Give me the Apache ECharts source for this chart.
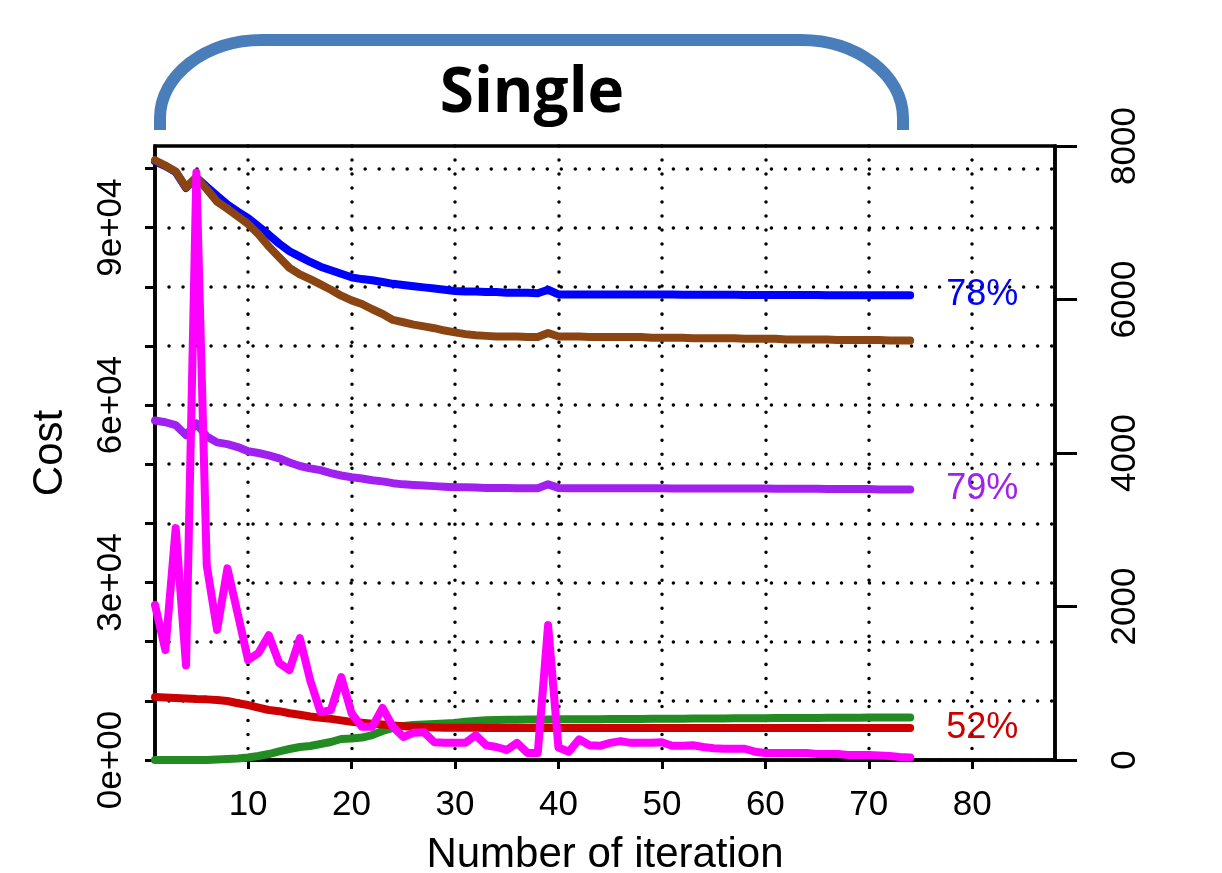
<!DOCTYPE html>
<html>
<head>
<meta charset="utf-8">
<title>Single</title>
<script src="https://cdn.jsdelivr.net/npm/echarts@6.0.0/dist/echarts.min.js"></script>
<style>
    html, body { margin: 0; padding: 0; background: #fff; overflow: hidden; }
    #chart { width: 1222px; height: 873px; }
</style>
</head>
<body>
<div id="chart"></div>
<script>
// iteration number (x)
var iterations = [
    1, 2, 3, 4, 5, 6, 7, 8, 9, 10,
    11, 12, 13, 14, 15, 16, 17, 18, 19, 20,
    21, 22, 23, 24, 25, 26, 27, 28, 29, 30,
    31, 32, 33, 34, 35, 36, 37, 38, 39, 40,
    41, 42, 43, 44, 45, 46, 47, 48, 49, 50,
    51, 52, 53, 54, 55, 56, 57, 58, 59, 60,
    61, 62, 63, 64, 65, 66, 67, 68, 69, 70,
    71, 72, 73, 74
];

var blueCost = [
    101200, 100400, 99400, 96700, 98500, 96900, 95400, 93900, 92700, 91600,
    90200, 88800, 87300, 86000, 85100, 84200, 83400, 82800, 82200, 81600,
    81300, 81100, 80800, 80500, 80300, 80100, 79900, 79700, 79500, 79300,
    79200, 79200, 79100, 79100, 79000, 79000, 79000, 78900, 79500, 78700,
    78700, 78700, 78700, 78700, 78700, 78700, 78700, 78700, 78700, 78700,
    78700, 78650, 78650, 78650, 78650, 78650, 78650, 78600, 78600, 78600,
    78600, 78600, 78600, 78600, 78600, 78550, 78550, 78550, 78550, 78550,
    78550, 78550, 78550, 78550
];

var brownCost = [
    101400, 100500, 99500, 96800, 98500, 96500, 94400, 93200, 91900, 90600,
    88900, 86800, 85000, 83200, 82100, 81300, 80400, 79500, 78500, 77700,
    77100, 76200, 75400, 74400, 74000, 73600, 73300, 73000, 72600, 72300,
    72000, 71800, 71700, 71600, 71600, 71600, 71500, 71500, 72200, 71600,
    71600, 71600, 71500, 71500, 71500, 71500, 71500, 71500, 71400, 71400,
    71400, 71400, 71300, 71300, 71300, 71300, 71300, 71200, 71200, 71200,
    71200, 71100, 71100, 71100, 71100, 71100, 71000, 71000, 71000, 71000,
    71000, 70900, 70900, 70900
];

var purpleCost = [
    57400, 57100, 56600, 54900, 56900, 54700, 53700, 53400, 52900, 52200,
    51900, 51500, 51000, 50300, 49700, 49300, 49000, 48500, 48100, 47800,
    47600, 47300, 47100, 46800, 46600, 46500, 46400, 46300, 46200, 46100,
    46100, 46050, 46000, 46000, 46000, 45950, 45950, 45950, 46600, 46000,
    45950, 45950, 45950, 45950, 45950, 45950, 45950, 45950, 45950, 45950,
    45900, 45900, 45900, 45900, 45900, 45900, 45900, 45900, 45900, 45900,
    45850, 45850, 45850, 45850, 45850, 45800, 45800, 45800, 45800, 45800,
    45750, 45750, 45750, 45750
];

var magentaCost = [
    26200, 18600, 39200, 16000, 99300, 32900, 22000, 32400, 24700, 16900,
    18100, 21100, 16400, 15200, 20600, 13500, 8100, 8400, 14000, 7900,
    5600, 5600, 8800, 5600, 3900, 4600, 4700, 3000, 2900, 2900,
    2900, 4200, 2500, 2200, 1700, 2900, 1200, 1200, 22800, 2100,
    1400, 3500, 2500, 2400, 2900, 3200, 2900, 2900, 2900, 3000,
    2400, 2400, 2500, 2200, 2000, 1900, 1900, 1900, 1400, 1200,
    1200, 1200, 1200, 1200, 1000, 1000, 1000, 840, 840, 840,
    760, 680, 510, 420
];

var redCost = [
    10640, 10560, 10470, 10390, 10300, 10250, 10140, 9970, 9600, 9290,
    8850, 8450, 8250, 7900, 7650, 7350, 7150, 6950, 6700, 6450,
    6300, 6150, 6000, 5850, 5700, 5630, 5560, 5510, 5470, 5450,
    5440, 5440, 5430, 5430, 5430, 5420, 5420, 5420, 5420, 5420,
    5410, 5410, 5410, 5410, 5410, 5410, 5410, 5410, 5410, 5410,
    5400, 5400, 5400, 5400, 5400, 5400, 5400, 5400, 5400, 5400,
    5400, 5400, 5400, 5400, 5400, 5400, 5400, 5400, 5400, 5400,
    5390, 5390, 5390, 5390
];

var greenCost = [
    0, 0, 0, 0, 0, 0, 80, 170, 250, 420,
    680, 1010, 1440, 1860, 2200, 2370, 2700, 3040, 3550, 3630,
    3800, 4220, 4900, 5410, 5740, 5910, 6000, 6080, 6170, 6250,
    6450, 6600, 6700, 6760, 6800, 6820, 6840, 6850, 6860, 6870,
    6880, 6890, 6900, 6910, 6920, 6930, 6940, 6950, 6960, 6970,
    6980, 6990, 7000, 7010, 7020, 7030, 7040, 7050, 7060, 7070,
    7080, 7090, 7100, 7110, 7120, 7130, 7140, 7150, 7160, 7170,
    7180, 7190, 7200, 7200
];

// tick positions / labels
var iterTicks = [10, 20, 30, 40, 50, 60, 70, 80];
var costTicks = [0, 10000, 20000, 30000, 40000, 50000, 60000, 70000, 80000, 90000, 100000];
var costLabels = [0, 30000, 60000, 90000];
var rightTicks = [0, 2000, 4000, 6000, 8000];

var axisFont = "'Liberation Sans', Arial, sans-serif";
var dotted = { color: '#000', width: 3.5, type: [0.01, 14], cap: 'round' };
var blackLine = { color: '#000', width: 3.5 };
var bracketStyle = { fill: null, stroke: '#4A7EBB', lineWidth: 12 };

function sciLabel(v) {
    if (v === 0) return '0e+00';
    var e = Math.floor(Math.log10(v));
    var m = Math.round(v / Math.pow(10, e));
    return m + 'e+' + (e < 10 ? '0' + e : e);
}

function pairs(vals) {
    return iterations.map(function (it, k) { return [it, vals[k]]; });
}

function costLine(name, vals, color, endText) {
    var s = {
        name: name,
        type: 'line',
        data: pairs(vals),
        showSymbol: false,
        symbol: 'none',
        lineStyle: { color: color, width: 8, cap: 'round', join: 'round' },
        itemStyle: { color: color }
    };
    if (endText) {
        s.endLabel = {
            show: true,
            formatter: endText,
            color: color,
            fontSize: 36,
            fontFamily: axisFont,
            distance: 36
        };
    }
    return s;
}

var myChart = echarts.init(document.getElementById('chart'));
var option = {
    backgroundColor: '#fff',
    animation: false,
    grid: {
        left: 155, top: 146, width: 900, height: 614,
        outerBoundsMode: 'none',
        show: true, borderColor: '#000', borderWidth: 3.5
    },
    xAxis: {
        type: 'value',
        min: 1, max: 88,
        splitNumber: 9, minInterval: 10, maxInterval: 10,
        name: 'Number of iteration',
        nameLocation: 'middle',
        nameGap: 74,
        nameTextStyle: { fontSize: 42, fontFamily: axisFont, color: '#000' },
        axisLine: { show: true, lineStyle: blackLine },
        axisTick: { show: true, length: 9, lineStyle: { color: '#000', width: 3 }, customValues: iterTicks },
        axisLabel: { fontSize: 35, fontFamily: axisFont, color: '#000', margin: 28, customValues: iterTicks },
        splitLine: { show: true, lineStyle: dotted }
    },
    yAxis: [
        {
            type: 'value', position: 'left',
            min: 0, max: 103800, interval: 10000,
            name: 'Cost',
            nameLocation: 'middle',
            nameGap: 84,
            nameTextStyle: { fontSize: 42, fontFamily: axisFont, color: '#000' },
            axisLine: { show: true, lineStyle: blackLine },
            axisTick: { show: true, length: 10, lineStyle: { color: '#000', width: 3 }, customValues: costTicks },
            axisLabel: {
                rotate: 90, fontSize: 35, fontFamily: axisFont, color: '#000', margin: 26,
                customValues: costLabels, formatter: sciLabel
            },
            splitLine: { show: true, lineStyle: dotted }
        },
        {
            type: 'value', position: 'right',
            min: 0, max: 8000, interval: 2000,
            axisLine: { show: true, lineStyle: blackLine },
            axisTick: { show: true, length: 22, lineStyle: { color: '#000', width: 3 }, customValues: rightTicks },
            axisLabel: {
                rotate: 90, fontSize: 35, fontFamily: axisFont, color: '#000', margin: 53,
                customValues: rightTicks,
                formatter: function (v) { return String(v); }
            },
            splitLine: { show: false }
        }
    ],
    series: [
        costLine('blue', blueCost, '#0000FF', '78%'),
        costLine('brown', brownCost, '#8B4513'),
        costLine('purple', purpleCost, '#A020F0', '79%'),
        costLine('green', greenCost, '#228B22'),
        costLine('red', redCost, '#CC0000', '52%'),
        costLine('magenta', magentaCost, '#FF00FF')
    ],
    graphic: [
        // the rounded bracket over the plot
        { type: 'line', shape: { x1: 160, y1: 130, x2: 160, y2: 118 }, style: bracketStyle },
        {
            type: 'bezierCurve',
            shape: { x1: 160, y1: 118, cpx1: 160, cpy1: 75, cpx2: 206, cpy2: 40, x2: 262, y2: 40 },
            style: bracketStyle
        },
        { type: 'line', shape: { x1: 262, y1: 40, x2: 801, y2: 40 }, style: bracketStyle },
        {
            type: 'bezierCurve',
            shape: { x1: 801, y1: 40, cpx1: 857, cpy1: 40, cpx2: 903, cpy2: 75, x2: 903, y2: 118 },
            style: bracketStyle
        },
        { type: 'line', shape: { x1: 903, y1: 118, x2: 903, y2: 130 }, style: bracketStyle },
        {
            type: 'text',
            x: 532, y: 94,
            style: {
                text: 'Single', fill: '#000',
                fontSize: 62, fontWeight: 'bold', fontFamily: "'Open Sans', sans-serif",
                align: 'center', verticalAlign: 'middle'
            }
        }
    ]
};
myChart.setOption(option);
window.addEventListener('resize', myChart.resize);
</script>
</body>
</html>
